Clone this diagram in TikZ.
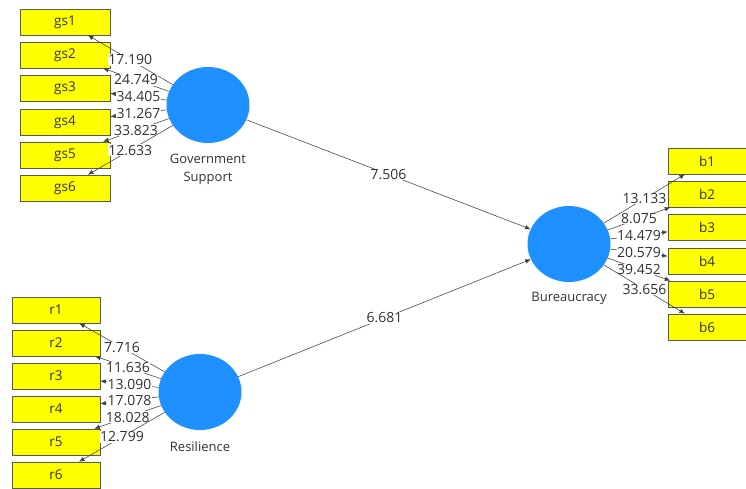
\documentclass[tikz,border=0pt]{standalone}
\usepackage{fontspec}
\setmainfont{Open Sans}
\usetikzlibrary{arrows.meta,shapes.geometric}
\definecolor{lvblue}{RGB}{30,144,255}
\definecolor{indyellow}{RGB}{255,255,0}
\definecolor{txtgray}{RGB}{50,50,50}
\begin{document}
\begin{tikzpicture}[x=1pt,y=-1pt,
  ind/.style={draw=black!65, fill=indyellow, minimum width=90pt, minimum height=26pt,
    inner sep=0pt, line width=0.6pt, text=txtgray, font=\fontsize{13.5}{15}\selectfont},
  lv/.style={ellipse, fill=lvblue, draw=none, minimum width=83pt, minimum height=76pt, inner sep=0pt},
  lvname/.style={text=txtgray, align=center, font=\fontsize{13}{18}\selectfont},
  load/.style={draw=black!75, line width=0.55pt, -{Latex[length=5.5pt,width=4.5pt]}},
  val/.style={fill=white, inner sep=0.5pt, text=txtgray, font=\fontsize{14}{15}\selectfont}]
\useasboundingbox (0,0) rectangle (746,489);

% Government Support block
\node[lv] (gs) at (208,105) {};
\node[lvname] (gsname) at (208,169) {Government\\Support};
\foreach \i/\y in {1/22,2/55,3/88,4/122,5/155,6/188}
  \node[ind] (gs\i) at (65,\y) {gs\i};

% Resilience block
\node[lv] (res) at (200,392) {};
\node[lvname] (resname) at (200,447) {Resilience};
\foreach \i/\y in {1/310,2/343,3/376,4/409,5/442,6/475}
  \node[ind, minimum width=88pt] (r\i) at (56,\y) {r\i};

% Bureaucracy block
\node[lv] (bur) at (569,244) {};
\node[lvname] (burname) at (569,298) {Bureaucracy};
\foreach \i/\y in {1/161,2/194,3/227,4/261,5/294,6/327}
  \node[ind, minimum width=78pt] (b\i) at (707,\y) {b\i};

% outer loadings
\foreach \i/\v in {1/17.190,2/24.749,3/34.405,4/31.267,5/33.823,6/12.633}
  \draw[load] (gs) -- node[val] {\v} (gs\i);
\foreach \i/\v in {1/7.716,2/11.636,3/13.090,4/17.078,5/18.028,6/12.799}
  \draw[load] (res) -- node[val] {\v} (r\i);
\foreach \i/\v in {1/13.133,2/8.075,3/14.479,4/20.579,5/39.452,6/33.656}
  \draw[load] (bur) -- node[val] {\v} (b\i);

% inner path coefficients
\draw[load] (gs) -- node[val] {7.506} (bur);
\draw[load] (res) -- node[val] {6.681} (bur);
\end{tikzpicture}
\end{document}
